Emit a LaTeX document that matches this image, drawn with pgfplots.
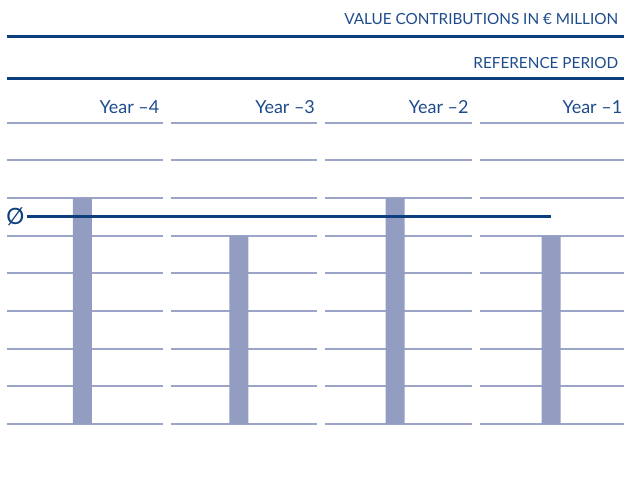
\documentclass[border=0pt]{standalone}
\usepackage{fontspec}
\setmainfont{Lato}
\usepackage{pgfplots}
\pgfplotsset{compat=1.18}
\definecolor{navy}{HTML}{0D3E7E}
\definecolor{txtblue}{HTML}{1E4B8C}
\definecolor{barblue}{HTML}{939DC1}
\definecolor{gridblue}{HTML}{9CA5C8}

\begin{document}
\begin{tikzpicture}
\begin{axis}[
  scale only axis, width=375pt, height=292.9pt,
  xmin=0, xmax=625, ymin=-1.67, ymax=11.26,
  hide axis, clip=false,
  ybar, bar width=19, bar shift=0pt,
]
% keep the full frame in the bounding box
\path (axis cs:0,-1.67) (axis cs:625,11.26);
% grid segments
\pgfplotsinvokeforeach{0,...,8}{
  \draw[gridblue, line width=1.2pt] (axis cs:7,#1) -- (axis cs:163,#1);
  \draw[gridblue, line width=1.2pt] (axis cs:171,#1) -- (axis cs:318,#1);
  \draw[gridblue, line width=1.2pt] (axis cs:326,#1) -- (axis cs:473,#1);
  \draw[gridblue, line width=1.2pt] (axis cs:481,#1) -- (axis cs:625,#1);
}
\addplot[fill=barblue, draw=none] coordinates {(82.5,6)(239.5,5)(396,6)(552.5,5)};
% average
\addplot[sharp plot, navy, line width=1.8pt, forget plot] coordinates {(27,5.5)(552,5.5)};
\node[text=navy, font=\fontsize{13.5}{14}\selectfont, anchor=west, inner sep=0pt] at (axis cs:6,5.5) {Ø};
% header
\draw[navy, line width=1.8pt] (axis cs:7,10.30) -- (axis cs:625,10.30);
\draw[navy, line width=1.8pt] (axis cs:7,9.166) -- (axis cs:625,9.166);
\node[text=txtblue, font=\fontsize{9.2}{10}\selectfont, anchor=base east, inner sep=0pt]
  at (axis cs:620,10.60) {VALUE CONTRIBUTIONS IN € MILLION};
\node[text=txtblue, font=\fontsize{9.2}{10}\selectfont, anchor=base east, inner sep=0pt]
  at (axis cs:620,9.44) {REFERENCE PERIOD};
\node[text=txtblue, font=\fontsize{10.8}{12}\selectfont, anchor=base east, inner sep=0pt]
  at (axis cs:160,8.25) {Year –4};
\node[text=txtblue, font=\fontsize{10.8}{12}\selectfont, anchor=base east, inner sep=0pt]
  at (axis cs:316,8.25) {Year –3};
\node[text=txtblue, font=\fontsize{10.8}{12}\selectfont, anchor=base east, inner sep=0pt]
  at (axis cs:470,8.25) {Year –2};
\node[text=txtblue, font=\fontsize{10.8}{12}\selectfont, anchor=base east, inner sep=0pt]
  at (axis cs:624,8.25) {Year –1};
\end{axis}
\end{tikzpicture}
\end{document}
